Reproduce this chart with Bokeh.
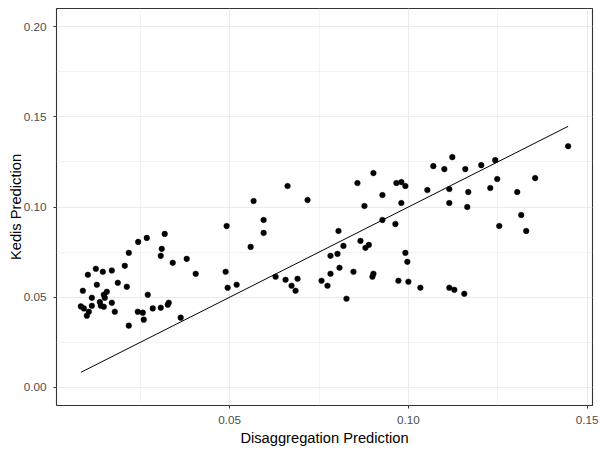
from bokeh.plotting import figure
from bokeh.models import Range1d, FixedTicker, NumeralTickFormatter
from bokeh.embed import file_html
from bokeh.resources import INLINE

# Disaggregation prediction (x) vs Kedis prediction (y)
disagg = [
    0.02441, 0.02682, 0.03184, 0.02179, 0.03101, 0.03073, 0.02067, 0.03408, 0.03799, 0.01257,
    0.01453, 0.01704, 0.01034, 0.04050, 0.04888, 0.01872, 0.01285, 0.02123, 0.00894, 0.01564,
    0.01480, 0.02709, 0.04944, 0.05196, 0.01145, 0.01508, 0.01369, 0.01704, 0.03296, 0.03268,
    0.00838, 0.00922, 0.01145, 0.01397, 0.01480, 0.02849, 0.03073, 0.01061, 0.01006, 0.01788,
    0.02430, 0.02570, 0.02598, 0.03631, 0.02179, 0.04916, 0.05670, 0.06620, 0.07179, 0.05950,
    0.05950, 0.09022, 0.08575, 0.09665, 0.09804, 0.09916, 0.09274, 0.08771, 0.09804, 0.09274,
    0.09637, 0.08045, 0.05587, 0.08184, 0.08659, 0.08799, 0.08894, 0.07821, 0.08017, 0.08073,
    0.07821, 0.08464, 0.06285, 0.06564, 0.06899, 0.06732, 0.06844, 0.07570, 0.07737, 0.09022,
    0.08994, 0.09916, 0.09972, 0.09721, 0.10000, 0.08268, 0.14469, 0.11229, 0.10698, 0.11006,
    0.11592, 0.12039, 0.12430, 0.12486, 0.13547, 0.10531, 0.11145, 0.11676, 0.12291, 0.13045,
    0.11145, 0.11648, 0.13156, 0.12542, 0.13296, 0.10335, 0.11145, 0.11285, 0.11564,
]
kedis = [
    0.08066, 0.08287, 0.08508, 0.07459, 0.07680, 0.07293, 0.06740, 0.06906, 0.07127, 0.06575,
    0.06409, 0.06481, 0.06243, 0.06298, 0.06409, 0.05801, 0.05691, 0.05580, 0.05359, 0.05304,
    0.05138, 0.05138, 0.05525, 0.05691, 0.04972, 0.04972, 0.04729, 0.04696, 0.04696, 0.04586,
    0.04492, 0.04381, 0.04530, 0.04530, 0.04475, 0.04381, 0.04420, 0.04199, 0.03978, 0.04199,
    0.04199, 0.04144, 0.03757, 0.03867, 0.03425, 0.08950, 0.10331, 0.11160, 0.10387, 0.09282,
    0.08564, 0.11878, 0.11326, 0.11326, 0.11381, 0.11160, 0.10663, 0.10055, 0.10221, 0.09282,
    0.09061, 0.08674, 0.07790, 0.07845, 0.08122, 0.07735, 0.07901, 0.07293, 0.07403, 0.06630,
    0.06298, 0.06409, 0.06133, 0.05967, 0.06022, 0.05635, 0.05359, 0.05912, 0.05635, 0.06298,
    0.06133, 0.07459, 0.06961, 0.05912, 0.05856, 0.04917, 0.13370, 0.12762, 0.12265, 0.12099,
    0.12099, 0.12320, 0.12597, 0.11547, 0.11602, 0.10939, 0.10994, 0.10829, 0.11050, 0.10829,
    0.10221, 0.10000, 0.09558, 0.08950, 0.08674, 0.05525, 0.05525, 0.05414, 0.05193,
]

x_ticks = [0.05, 0.10, 0.15]
x_minor = [0.025, 0.075, 0.125]
y_ticks = [0.00, 0.05, 0.10, 0.15, 0.20]
y_minor = [0.025, 0.075, 0.125, 0.175]
y_limits = [0.0, 0.20]

xmin, xmax = min(disagg), max(disagg)
xpad = 0.05 * (xmax - xmin)
ypad = 0.05 * (y_limits[1] - y_limits[0])

p = figure(
    width=598, height=448,
    x_range=Range1d(xmin - xpad, xmax + xpad),
    y_range=Range1d(y_limits[0] - ypad, y_limits[1] + ypad),
    output_backend="svg", toolbar_location=None,
    min_border_left=56, min_border_right=6, min_border_top=8, min_border_bottom=43,
    background_fill_color="white", border_fill_color="white",
)

p.outline_line_color = "#333333"
p.outline_line_width = 1.1

p.xaxis.ticker = FixedTicker(ticks=x_ticks, minor_ticks=x_minor)
p.yaxis.ticker = FixedTicker(ticks=y_ticks, minor_ticks=y_minor)
for ax in (p.xaxis, p.yaxis):
    ax.formatter = NumeralTickFormatter(format="0.00")
    ax.axis_line_color = None
    ax.major_tick_line_color = "#333333"
    ax.major_tick_line_width = 1
    ax.major_tick_in = 0
    ax.major_tick_out = 3
    ax.minor_tick_line_color = None
    ax.major_label_text_font = "Liberation Sans"
    ax.major_label_text_font_size = "11.7px"
    ax.major_label_text_color = "#4D4D4D"
    ax.axis_label_text_font = "Liberation Sans"
    ax.axis_label_text_font_size = "14.7px"
    ax.axis_label_text_font_style = "normal"
    ax.axis_label_text_color = "black"

p.xaxis.axis_label = "Disaggregation Prediction"
p.yaxis.axis_label = "Kedis Prediction"
p.xaxis.major_label_standoff = 6
p.xaxis.axis_label_standoff = 3
p.yaxis.major_label_standoff = 6
p.yaxis.axis_label_standoff = -3

for g in (p.xgrid, p.ygrid):
    g.grid_line_color = "#EBEBEB"
    g.grid_line_width = 1.07
    g.minor_grid_line_color = "#EBEBEB"
    g.minor_grid_line_width = 0.6

# identity reference line spanning the data's x extent
line_x = [xmin, xmax]
p.line(line_x, line_x, line_color="black", line_width=1)

p.scatter(disagg, kedis, size=5.6, fill_color="black", line_color="black", line_width=0.5)

open("out.html", "w").write(file_html(p, INLINE))
